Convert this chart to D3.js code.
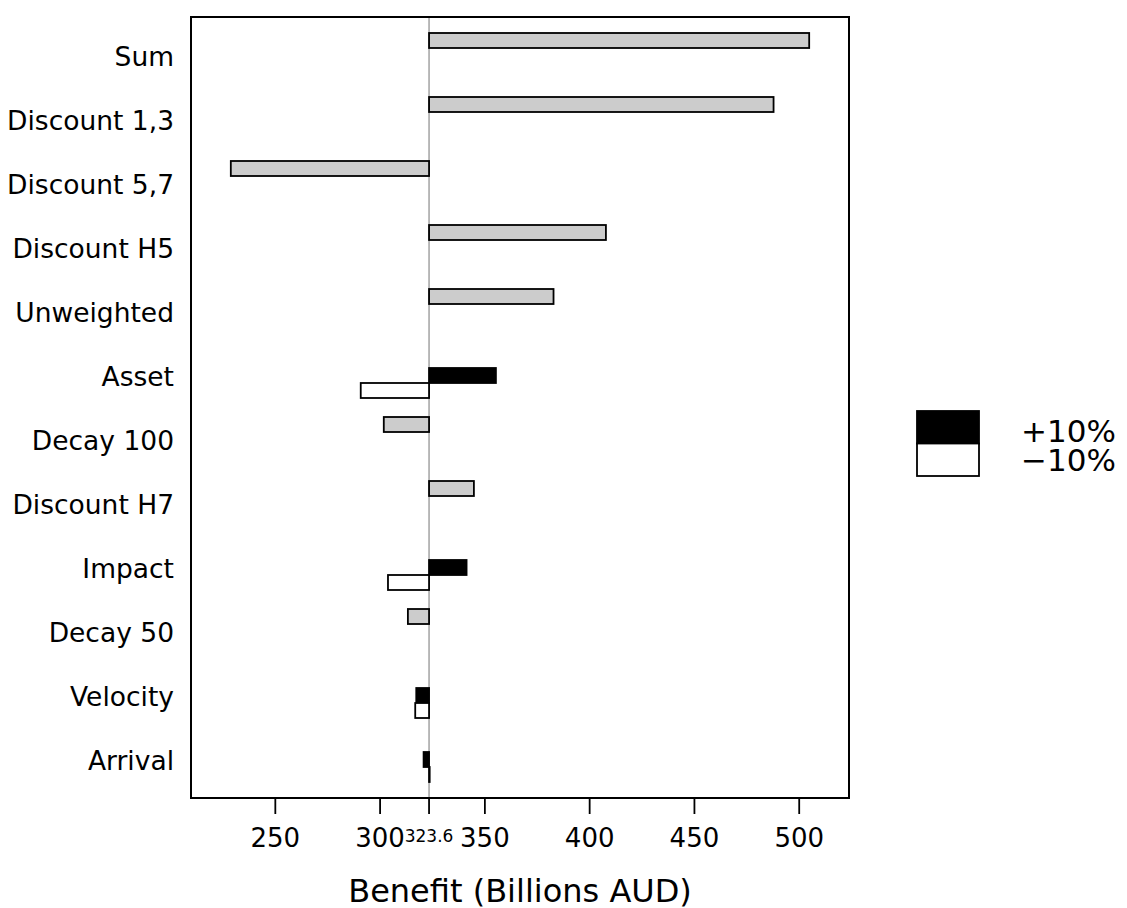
<!DOCTYPE html>
<meta charset="utf-8">
<head>
<style>
body { margin: 0; background: #fff; }
svg { font-family: "DejaVu Sans", sans-serif; }
.axis path { display: none; }
.axis line { stroke: #000; stroke-width: 1.8; }
.axis text { font-family: "DejaVu Sans", sans-serif; font-size: 26px; fill: #000; }
.bar { stroke: #000; stroke-width: 1.8; }
</style>
</head>
<body>
<script src="https://cdnjs.cloudflare.com/ajax/libs/d3/7.8.5/d3.min.js"></script>
<script>

// categories, top to bottom
var categories = ["Sum", "Discount 1,3", "Discount 5,7", "Discount H5", "Unweighted", "Asset",
                  "Decay 100", "Discount H7", "Impact", "Decay 50", "Velocity", "Arrival"];

// scenario result (single grey bar), null where the parameter is varied +/-10%
var singleValues = [505, 488, 229, 408, 383, null, 302, 345, null, 313.5, null, null];
// +10% and -10% results
var plusValues  = [null, null, null, null, null, 355.5, null, null, 341.5, null, 317.5, 321];
var minusValues = [null, null, null, null, null, 291, null, null, 304, null, 317, 323.9];

var baseValue = 323.6;
var tickValues = [250, 300, 350, 400, 450, 500];
var legendLabels = ["+10%", "\u221210%"];

var width = 1127, height = 908;
// plot frame edges
var plotLeft = 191, plotRight = 849, plotTop = 17, plotBottom = 798;

var svg = d3.select("body").append("svg")
    .attr("width", width)
    .attr("height", height);

// scales
var x = d3.scaleLinear().domain([210, 524]).range([plotLeft, plotRight]);

var y = d3.scaleBand()
    .domain(categories)
    .range([plotTop, plotBottom])
    .paddingInner(0.297)
    .paddingOuter(0.25);

// three slots inside each band: single bar, +10%, -10%
var slot = d3.scaleBand()
    .domain(["single", "plus", "minus"])
    .range([0, y.bandwidth()]);

// build the bar list from the arrays
var bars = [];
categories.forEach(function(c, i) {
  if (singleValues[i] != null) bars.push({cat: c, kind: "single", v: singleValues[i]});
  if (plusValues[i] != null) bars.push({cat: c, kind: "plus", v: plusValues[i]});
  if (minusValues[i] != null) bars.push({cat: c, kind: "minus", v: minusValues[i]});
});

var fills = {single: "#cccccc", plus: "#000000", minus: "#ffffff"};

// base line
svg.append("line")
    .attr("x1", x(baseValue)).attr("x2", x(baseValue))
    .attr("y1", plotTop).attr("y2", plotBottom)
    .style("stroke", "#a8a8a8")
    .style("stroke-width", 1.6);

// bars
svg.selectAll(".bar")
    .data(bars)
    .enter().append("rect")
    .attr("class", "bar")
    .attr("x", function(d) { return Math.min(x(d.v), x(baseValue)); })
    .attr("width", function(d) { return Math.abs(x(d.v) - x(baseValue)); })
    .attr("y", function(d) { return y(d.cat) + slot(d.kind); })
    .attr("height", slot.bandwidth())
    .style("fill", function(d) { return fills[d.kind]; });

// frame
svg.append("rect")
    .attr("x", plotLeft).attr("y", plotTop)
    .attr("width", plotRight - plotLeft).attr("height", plotBottom - plotTop)
    .style("fill", "none")
    .style("stroke", "#000")
    .style("stroke-width", 2);

// category labels
svg.selectAll(".cat")
    .data(categories)
    .enter().append("text")
    .attr("class", "cat")
    .attr("x", 174)
    .attr("y", function(d) { return y(d) + y.bandwidth() / 2; })
    .attr("dy", "0.4em")
    .style("text-anchor", "end")
    .style("font-size", "26.5px")
    .text(function(d) { return d; });

// x axis
var xAxis = d3.axisBottom(x)
    .tickValues(tickValues)
    .tickSize(16)
    .tickPadding(15)
    .tickFormat(d3.format("d"));

var gx = svg.append("g")
    .attr("class", "axis")
    .attr("transform", "translate(0," + plotBottom + ")")
    .call(xAxis);

// tick for the base value with a small label
gx.append("line")
    .attr("x1", x(baseValue)).attr("x2", x(baseValue))
    .attr("y1", 0).attr("y2", 16);

gx.append("text")
    .attr("x", x(baseValue))
    .attr("y", 44)
    .style("text-anchor", "middle")
    .style("font-size", "17px")
    .text(baseValue);

// axis title
svg.append("text")
    .attr("x", (plotLeft + plotRight) / 2)
    .attr("y", 902)
    .style("text-anchor", "middle")
    .style("font-size", "32px")
    .text("Benefit (Billions AUD)");

// legend
var legend = svg.append("g").attr("transform", "translate(917,411)");

legend.selectAll("rect")
    .data(legendLabels)
    .enter().append("rect")
    .attr("x", 0)
    .attr("y", function(d, i) { return i * 32.5; })
    .attr("width", 62)
    .attr("height", 32.5)
    .style("fill", function(d, i) { return i == 0 ? "#000" : "#fff"; })
    .style("stroke", "#000")
    .style("stroke-width", 1.8);

legend.selectAll("text")
    .data(legendLabels)
    .enter().append("text")
    .attr("x", 104)
    .attr("y", function(d, i) { return 31 + i * 29; })
    .style("font-size", "31px")
    .text(function(d) { return d; });

</script>
</body>
